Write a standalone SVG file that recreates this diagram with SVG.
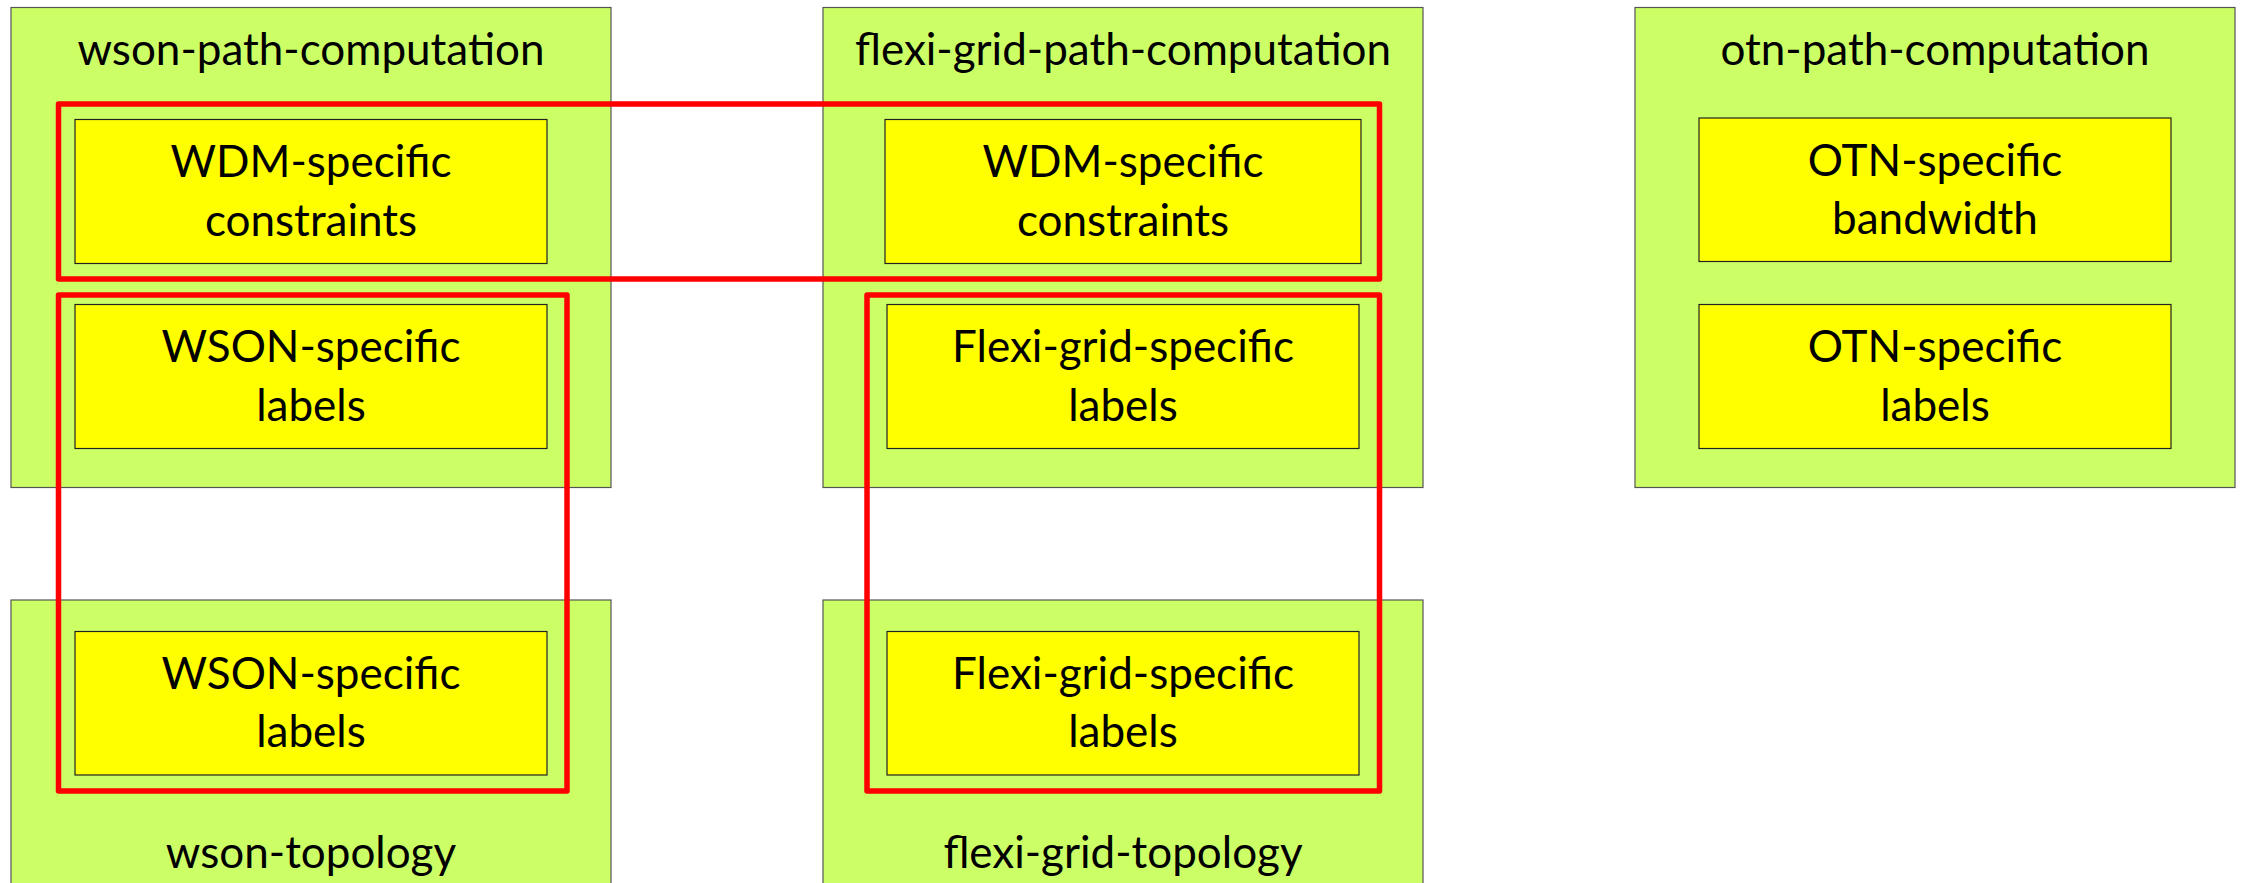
<svg xmlns="http://www.w3.org/2000/svg" width="2241" height="883" viewBox="0 0 2241 883">
<style>
.outer{fill:#ccff66;stroke:#555;stroke-width:1.2}
.inner{fill:#ffff00;stroke:#222;stroke-width:1.2}
.red{fill:none;stroke:#ff0000;stroke-width:5.5;stroke-linejoin:round}
text{font-family:Lato,"Noto Sans",sans-serif;font-size:44px;fill:#000;text-anchor:middle}
</style>
<rect width="2241" height="883" fill="#fff"/>
<g id="wson-path-computation">
<rect class="outer" x="11" y="7.5" width="600" height="480"/>
<text x="311" y="65">wson-path-computation</text>
</g>
<g id="wson-wdm-constraints">
<rect class="inner" x="75" y="119.5" width="472" height="144"/>
<text x="311" y="177">WDM-specific</text>
<text x="311" y="235.5">constraints</text>
</g>
<g id="wson-pc-labels">
<rect class="inner" x="75" y="304.5" width="472" height="144"/>
<text x="311" y="362">WSON-specific</text>
<text x="311" y="420.5">labels</text>
</g>
<g id="wson-topology">
<rect class="outer" x="11" y="600" width="600" height="300"/>
<text x="311" y="868">wson-topology</text>
</g>
<g id="wson-topo-labels">
<rect class="inner" x="75" y="631.5" width="472" height="143.5"/>
<text x="311" y="688.5">WSON-specific</text>
<text x="311" y="747">labels</text>
</g>
<g id="flexi-grid-path-computation">
<rect class="outer" x="823" y="7.5" width="600" height="480"/>
<text x="1123" y="65">flexi-grid-path-computation</text>
</g>
<g id="flexi-wdm-constraints">
<rect class="inner" x="885" y="119.5" width="476" height="144"/>
<text x="1123" y="177">WDM-specific</text>
<text x="1123" y="235.5">constraints</text>
</g>
<g id="flexi-pc-labels">
<rect class="inner" x="887" y="304.5" width="472" height="144"/>
<text x="1123" y="362">Flexi-grid-specific</text>
<text x="1123" y="420.5">labels</text>
</g>
<g id="flexi-grid-topology">
<rect class="outer" x="823" y="600" width="600" height="300"/>
<text x="1123" y="868">flexi-grid-topology</text>
</g>
<g id="flexi-topo-labels">
<rect class="inner" x="887" y="631.5" width="472" height="143.5"/>
<text x="1123" y="688.5">Flexi-grid-specific</text>
<text x="1123" y="747">labels</text>
</g>
<g id="otn-path-computation">
<rect class="outer" x="1635" y="7.5" width="600" height="480"/>
<text x="1935" y="65">otn-path-computation</text>
</g>
<g id="otn-bandwidth">
<rect class="inner" x="1699" y="118" width="472" height="143.5"/>
<text x="1935" y="175.5">OTN-specific</text>
<text x="1935" y="234">bandwidth</text>
</g>
<g id="otn-labels">
<rect class="inner" x="1699" y="304.5" width="472" height="144"/>
<text x="1935" y="362">OTN-specific</text>
<text x="1935" y="420.5">labels</text>
</g>
<g id="connectors">
<rect class="red" x="58.5" y="104" width="1321" height="175"/>
<rect class="red" x="58.5" y="295" width="508.5" height="496"/>
<rect class="red" x="867" y="295" width="512.5" height="496"/>
</g>
</svg>
